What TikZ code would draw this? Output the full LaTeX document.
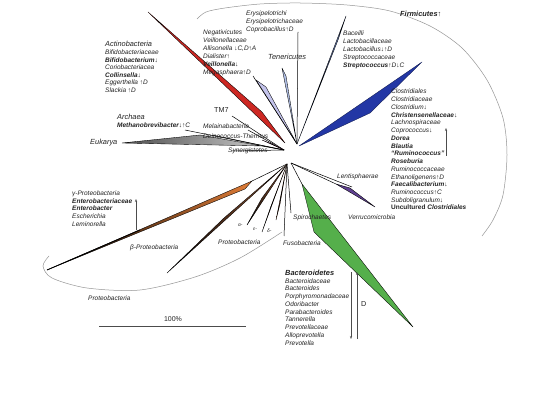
\documentclass[tikz,border=0pt]{standalone}
\usepackage{fontspec}
\setmainfont{Liberation Sans}
\usetikzlibrary{arrows.meta}
\definecolor{redW}{RGB}{205,40,35}
\definecolor{blueW}{RGB}{35,55,165}
\definecolor{greenW}{RGB}{85,175,75}
\definecolor{orangeW}{RGB}{225,125,55}
\definecolor{brownW}{RGB}{165,95,55}
\definecolor{lavW}{RGB}{195,195,235}
\definecolor{lbW}{RGB}{125,150,215}
\definecolor{greyW}{RGB}{175,175,175}
\definecolor{purpW}{RGB}{95,65,145}
\definecolor{arcC}{RGB}{150,150,150}
\definecolor{txt}{RGB}{35,35,35}
\begin{document}
\begin{tikzpicture}[x=1pt,y=-1pt,
  every node/.style={inner sep=0pt, text=txt},
  lab/.style={font=\fontsize{6.5}{7}\selectfont\itshape, anchor=base west},
  big/.style={font=\fontsize{7.4}{8}\selectfont\itshape, anchor=base west},
  plain/.style={font=\fontsize{7.2}{8}\selectfont, anchor=base west},
  tiny/.style={font=\fontsize{4.8}{5}\selectfont\itshape, anchor=base west},
  wedge/.style={draw=black, line width=0.35pt, line join=round},
  br/.style={draw=black, line width=0.5pt},
  arcl/.style={draw=arcC, line width=0.5pt},
  ar/.style={draw=black!70, line width=0.5pt, -{Stealth[length=3pt,width=2.2pt]}},
]
\fill[white] (0,0) rectangle (540,403);
\path[use as bounding box] (0,0) rectangle (540,403);

% ---- hub coordinates
\coordinate (hF) at (297,144);
\coordinate (hC) at (292,150);
\coordinate (hL) at (287,164);
\coordinate (hW) at (284,150);
\coordinate (hR) at (291,163);

% ---- group arcs
\draw[arcl] plot[smooth] coordinates {(197,19) (206,12) (225,8) (260,4) (300,3) (347,5) (390,11) (430,26) (462,48) (487,80) (503,118) (507,155) (503,195) (493,220) (482,236)};
\draw[arcl] plot[smooth] coordinates {(49,256) (43,266) (52,278) (87,288) (140,290) (195,277) (240,258) (282,232)};

% ---- Firmicutes side
\coordinate (eryT) at (298,32);
\draw[br] (hF) -- (eryT);
\coordinate (tenT) at (282,68);
\coordinate (tenN) at (286,76);
\filldraw[wedge, fill=lbW!60] (hF) -- (tenT) -- (tenN) -- cycle;
\coordinate (negF) at (256,80);
\coordinate (negN) at (266,87);
\coordinate (negT) at (253,76);
\filldraw[wedge, fill=lavW] (hF) -- (negF) -- (negN) -- cycle;
\draw[br] (hF) -- (negT);
\coordinate (bacT) at (346,16);
\coordinate (bacN) at (338,40);
\filldraw[wedge, fill=lbW] (hF) -- (bacT) -- (bacN) -- cycle;
\coordinate (cloA) at (299,146);
\coordinate (cloF) at (422,62);
\coordinate (cloN) at (370,113);
\filldraw[wedge, fill=blueW, draw=blueW!50!black] (cloA) -- (cloF) -- (cloN) -- cycle;

% ---- Actinobacteria
\coordinate (actA) at (285,143);
\coordinate (actF) at (148,12);
\coordinate (actN) at (262,112);
\filldraw[wedge, fill=redW] (actA) -- (actF) -- (actN) -- cycle;

% ---- left small phyla
\coordinate (tm7T) at (232,116);
\draw[br] (hW) -- (tm7T);
\coordinate (melT) at (248,130);
\draw[br] (hW) -- (melT);
\coordinate (deiT) at (212,135);
\draw[br] (hW) -- (deiT);
\coordinate (deiN) at (262,140);
\coordinate (deiM) at (272,144);
\filldraw[wedge, fill=purpW!70!red] (hW) -- (deiN) -- (deiM) -- cycle;
\coordinate (synT) at (232,151);
\draw[br] (hW) -- (synT);
\coordinate (arcT) at (185,130);
\draw[br] (hW) -- (arcT);
\coordinate (eukF) at (122,143);
\coordinate (eukN) at (200,135);
\coordinate (eukI) at (262,146);
\shadedraw[wedge, left color=black!70, middle color=greyW, right color=greyW!70] (eukI) -- (eukF) -- (eukN) -- cycle;
\draw[br] (eukI) -- (hW);

% ---- Proteobacteria fan
\coordinate (gamI) at (252,181);
\coordinate (gamF) at (47,270);
\coordinate (gamN) at (245,189);
\draw[br] (hL) -- (gamI);
\shadedraw[wedge, left color=black, middle color=orangeW, right color=orangeW] (gamI) -- (gamF) -- (gamN) -- cycle;
\draw[black, line width=0.8pt] (gamF) -- (140,230);
\coordinate (betF) at (167,273);
\coordinate (betN) at (224,218);
\shadedraw[wedge, left color=black, right color=brownW] (hL) -- (betF) -- (betN) -- cycle;
\coordinate (alpF) at (247,225);
\coordinate (alpN) at (262,198);
\shadedraw[wedge, top color=brownW, bottom color=black] (hL) -- (alpF) -- (alpN) -- cycle;
\coordinate (epsF) at (262,232);
\coordinate (epsN) at (271,206);
\shadedraw[wedge, top color=brownW, bottom color=black] (hL) -- (epsF) -- (epsN) -- cycle;
\coordinate (delF) at (276,220);
\coordinate (delN) at (280,204);
\shadedraw[wedge, top color=brownW, bottom color=brownW!60!black] (hL) -- (delF) -- (delN) -- cycle;
\coordinate (fusT) at (284,236);
\draw[br] (hL) -- (fusT);
\coordinate (spiT) at (291,213);
\draw[br] (hL) -- (spiT);

% ---- right lower
\coordinate (lenT) at (352,187);
\draw[br] (hR) -- (lenT);
\coordinate (verI) at (336,184);
\coordinate (verF) at (375,207);
\coordinate (verN) at (350,188);
\draw[br] (hR) -- (verI);
\filldraw[wedge, fill=purpW] (verI) -- (verF) -- (verN) -- cycle;
\coordinate (bctI) at (302,184);
\coordinate (bctF) at (413,327);
\coordinate (bctN) at (314,232);
\draw[br] (hR) -- (bctI);
\filldraw[wedge, fill=greenW] (bctI) -- (bctF) -- (bctN) -- cycle;

% ---- labels: top
\foreach \t [count=\i from 0] in {Erysipelotrichi,Erysipelotrichaceae,{Coprobacillus↑D}}
  \node[lab] (ery\i) at (246,{16+7.7*\i}) {\t};
\foreach \t [count=\i from 0] in {Negativicutes,Veillonellaceae,{Allisonella ↓C,D↑A},{Dialister↑},{\textbf{Veillonella}↓},{Megasphaera↑D}}
  \node[lab] (neg\i) at (203,{35+8*\i}) {\t};
\node[big] (tenL) at (268,60) {Tenericutes};
\foreach \t [count=\i from 0] in {Baceilli,Lactobacillaceae,{Lactobacillus↓↑D},Streptococcaceae,{\textbf{Streptococcus}↑D↓C}}
  \node[lab] (bac\i) at (343,{36+8*\i}) {\t};
\node[big] (firL) at (400,17) {\textbf{Firmicutes}↑};
\foreach \t [count=\i from 0] in {Clostridiales,Clostridiaceae,{Clostridium↓},{\textbf{Christensenellaceae}↓},Lachnospiraceae,{Coprococcus↓},{\textbf{Dorea}},{\textbf{Blautia}},{\textbf{“Ruminococcus”}},{\textbf{Roseburia}},Ruminococcaceae,{Ethanoligenens↑D},{\textbf{Faecalibacterium}↓},{Ruminococcus↑C},{Subdoligranulum↓},{\textbf{\upshape Uncultured \itshape Clostridiales}}}
  \node[lab] (clo\i) at (391,{94+7.73*\i}) {\t};

% ---- labels: left
\node[big] (actL) at (105,47) {Actinobacteria};
\foreach \t [count=\i from 0] in {Bifidobacteriaceae,{\textbf{Bifidobacterium}↓},Coriobacteriacea,{\textbf{Collinsella}↓},{Eggerthella ↑D},{Slackia ↑D}}
  \node[lab] (act\i) at (105,{54.6+7.6*\i}) {\t};
\node[plain] (tm7L) at (214,113) {TM7};
\node[big] (arcL) at (117,120) {Archaea};
\node[lab] (metL) at (117,128) {\textbf{Methanobrevibacter}↓↑C};
\node[lab] (melL) at (203,129) {Melainabacteria};
\node[lab] (deiL) at (203,139) {Deinococcus-Thermus};
\node[lab] (synL) at (228,153) {Synergistetes};
\node[big] (eukL) at (90,145) {Eukarya};

% ---- labels: proteobacteria
\foreach \t [count=\i from 0] in {γ-Proteobacteria,{\textbf{Enterobacteriaceae}},{\textbf{Enterobacter}},Escherichia,Leminorella}
  \node[lab] (gam\i) at (72,{196+7.5*\i}) {\t};
\node[lab] (betL) at (130,249) {β-Proteobacteria};
\node[lab] (proL) at (218,244) {Proteobacteria};
\node[lab] (pro2L) at (88,300) {Proteobacteria};
\node[tiny] (alpL) at (238,226) {α-};
\node[tiny] (epsL) at (253,230) {ε-};
\node[tiny] (delL) at (267,233) {δ-};
\node[lab] (fusL) at (283,245) {Fusobacteria};
\node[lab] (spiL) at (293,219) {Spirochaetes};
\node[lab] (verL) at (348,220) {Verrucomicrobia};
\node[lab] (lenL) at (337,179) {Lentisphaerae};

% ---- labels: Bacteroidetes
\node[big] (bctL) at (285,275) {\textbf{Bacteroidetes}};
\foreach \t [count=\i from 0] in {Bacteroidaceae,Bacteroides,Porphyromonadaceae,Odoribacter,Parabacteroides,Tannerella,Prevotellaceae,Alloprevotella,Prevotella}
  \node[lab] (bct\i) at (285,{283+7.75*\i}) {\t};
\node[plain] (dL) at (361,306) {D};

% ---- trend arrows
\coordinate (eaB) at (136,230); \coordinate (eaT) at (136,199);
\draw[ar] (eaB) -- (eaT);
\coordinate (clB) at (446,156); \coordinate (clT) at (446,128);
\draw[ar] (clB) -- (clT);
\coordinate (bdT) at (351,272); \coordinate (bdB) at (351,339);
\draw[ar] (bdT) -- (bdB);
\coordinate (buB) at (357,339); \coordinate (buT) at (357,272);
\draw[ar] (buB) -- (buT);

% ---- scale bar
\coordinate (sbL) at (99,326); \coordinate (sbR) at (246,326);
\draw[black!70, line width=0.8pt] (sbL) -- (sbR);
\node[font=\fontsize{7}{8}\selectfont, anchor=base] (sbT) at (173,321) {100\%};
\end{tikzpicture}
\end{document}
